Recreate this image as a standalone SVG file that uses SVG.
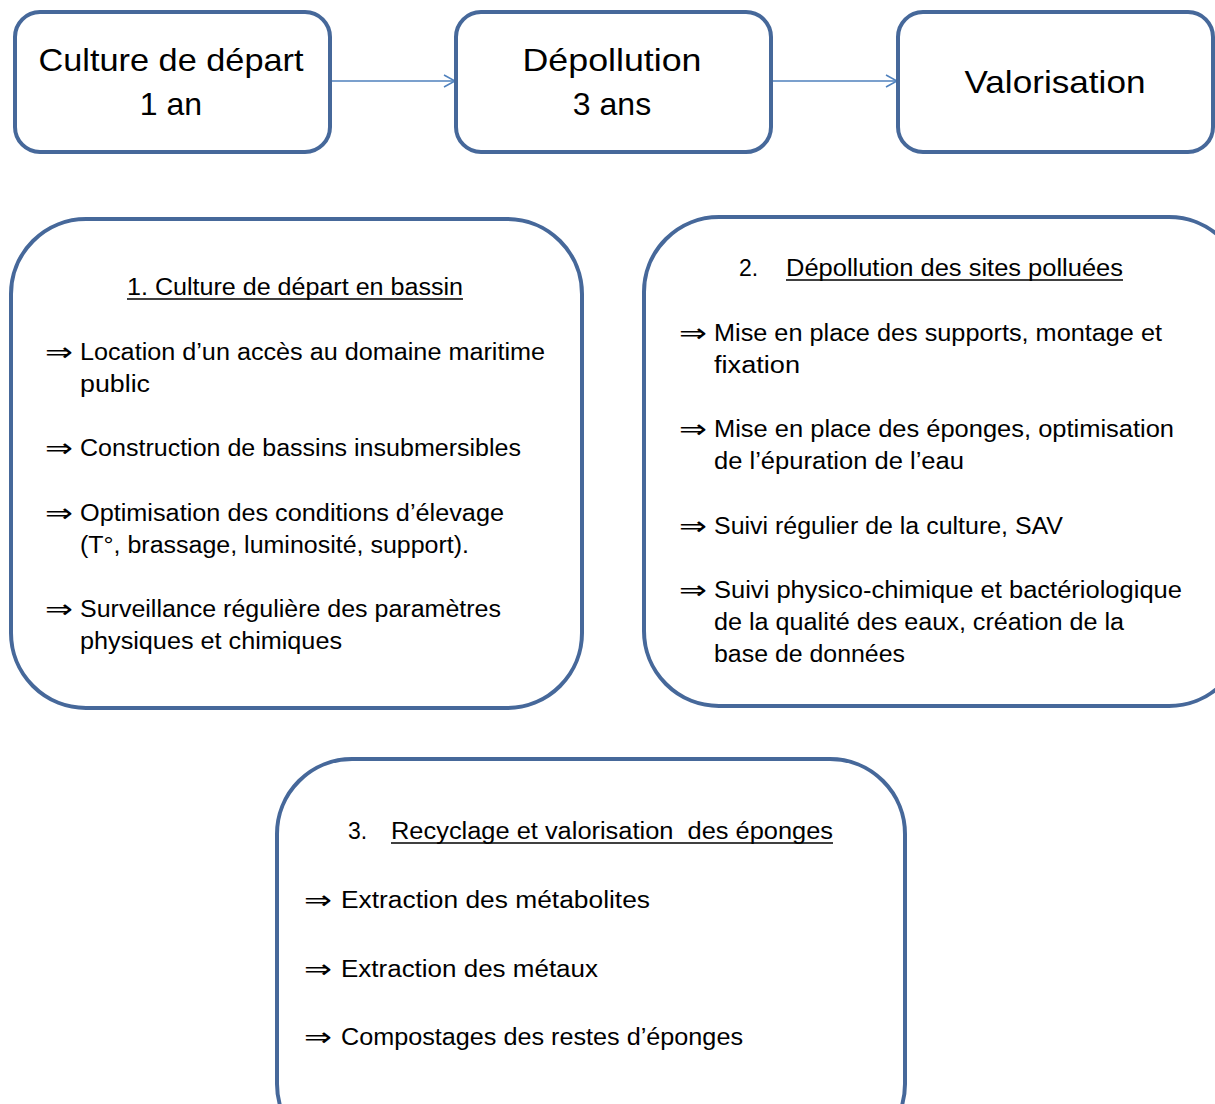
<svg xmlns="http://www.w3.org/2000/svg" width="1215" height="1104" viewBox="0 0 1215 1104">
<style>
.box{fill:#fff;stroke:#46689A;stroke-width:4}
.t{font-family:"Liberation Sans",Arial,sans-serif;fill:#000;white-space:pre}
.h{font-size:32px}
.b{font-size:23px}
.ar{font-family:"DejaVu Sans",sans-serif;font-size:26px;fill:#000}
.ul{stroke:#000;stroke-width:1.5}
.con{stroke:#4F81BD;stroke-width:1.5;fill:none}
</style>
<defs>
<marker id="open" markerWidth="14" markerHeight="14" refX="12" refY="7" orient="auto" markerUnits="userSpaceOnUse">
<path d="M1,1 L12,7 L1,13" fill="none" stroke="#4F81BD" stroke-width="1.5"/>
</marker>
</defs>
<rect width="1215" height="1104" fill="#fff"/>
<g id="connectors">
<line class="con" x1="331" y1="81" x2="455" y2="81" marker-end="url(#open)"/>
<line class="con" x1="772" y1="81" x2="897" y2="81" marker-end="url(#open)"/>
</g>
<g id="n-culture">
<rect class="box" x="15" y="12" width="315" height="140" rx="25"/>
<text class="t h" x="171" y="71" text-anchor="middle" textLength="265" lengthAdjust="spacingAndGlyphs">Culture de départ</text>
<text class="t h" x="171" y="115" text-anchor="middle">1 an</text>
</g>
<g id="n-depollution">
<rect class="box" x="456" y="12" width="315" height="140" rx="25"/>
<text class="t h" x="612" y="71" text-anchor="middle" textLength="179" lengthAdjust="spacingAndGlyphs">Dépollution</text>
<text class="t h" x="612" y="115" text-anchor="middle">3 ans</text>
</g>
<g id="n-valorisation">
<rect class="box" x="898" y="12" width="315" height="140" rx="25"/>
<text class="t h" x="1055" y="93" text-anchor="middle" textLength="181" lengthAdjust="spacingAndGlyphs">Valorisation</text>
</g>
<g id="n-etape1">
<rect class="box" x="11" y="219" width="571" height="489" rx="75"/>
<text class="t b" x="127" y="295" textLength="336" lengthAdjust="spacingAndGlyphs">1. Culture de départ en bassin</text>
<line class="ul" x1="127" y1="299" x2="463" y2="299"/>
<text class="ar" x="45" y="361" textLength="28" lengthAdjust="spacingAndGlyphs">⇒</text>
<text class="t b" x="80" y="360" textLength="465" lengthAdjust="spacingAndGlyphs">Location d’un accès au domaine maritime</text>
<text class="t b" x="80" y="392" textLength="70" lengthAdjust="spacingAndGlyphs">public</text>
<text class="ar" x="45" y="457" textLength="28" lengthAdjust="spacingAndGlyphs">⇒</text>
<text class="t b" x="80" y="456" textLength="441" lengthAdjust="spacingAndGlyphs">Construction de bassins insubmersibles</text>
<text class="ar" x="45" y="522" textLength="28" lengthAdjust="spacingAndGlyphs">⇒</text>
<text class="t b" x="80" y="521" textLength="424" lengthAdjust="spacingAndGlyphs">Optimisation des conditions d’élevage</text>
<text class="t b" x="80" y="553" textLength="389" lengthAdjust="spacingAndGlyphs">(T°, brassage, luminosité, support).</text>
<text class="ar" x="45" y="618" textLength="28" lengthAdjust="spacingAndGlyphs">⇒</text>
<text class="t b" x="80" y="617" textLength="421" lengthAdjust="spacingAndGlyphs">Surveillance régulière des paramètres</text>
<text class="t b" x="80" y="649" textLength="262" lengthAdjust="spacingAndGlyphs">physiques et chimiques</text>
</g>
<g id="n-etape2">
<rect class="box" x="644" y="217" width="600" height="489" rx="75"/>
<text class="t b" x="739" y="276">2.</text>
<text class="t b" x="786" y="276" textLength="337" lengthAdjust="spacingAndGlyphs">Dépollution des sites polluées</text>
<line class="ul" x1="786" y1="280" x2="1123" y2="280"/>
<text class="ar" x="679" y="342" textLength="28" lengthAdjust="spacingAndGlyphs">⇒</text>
<text class="t b" x="714" y="341" textLength="448" lengthAdjust="spacingAndGlyphs">Mise en place des supports, montage et</text>
<text class="t b" x="714" y="373" textLength="86" lengthAdjust="spacingAndGlyphs">fixation</text>
<text class="ar" x="679" y="438" textLength="28" lengthAdjust="spacingAndGlyphs">⇒</text>
<text class="t b" x="714" y="437" textLength="460" lengthAdjust="spacingAndGlyphs">Mise en place des éponges, optimisation</text>
<text class="t b" x="714" y="469" textLength="250" lengthAdjust="spacingAndGlyphs">de l’épuration de l’eau</text>
<text class="ar" x="679" y="535" textLength="28" lengthAdjust="spacingAndGlyphs">⇒</text>
<text class="t b" x="714" y="534" textLength="349" lengthAdjust="spacingAndGlyphs">Suivi régulier de la culture, SAV</text>
<text class="ar" x="679" y="599" textLength="28" lengthAdjust="spacingAndGlyphs">⇒</text>
<text class="t b" x="714" y="598" textLength="468" lengthAdjust="spacingAndGlyphs">Suivi physico-chimique et bactériologique</text>
<text class="t b" x="714" y="630" textLength="410" lengthAdjust="spacingAndGlyphs">de la qualité des eaux, création de la</text>
<text class="t b" x="714" y="662" textLength="191" lengthAdjust="spacingAndGlyphs">base de données</text>
</g>
<g id="n-etape3">
<rect class="box" x="277" y="759" width="628" height="400" rx="75"/>
<text class="t b" x="348" y="839">3.</text>
<text class="t b" x="391" y="839" textLength="442" lengthAdjust="spacingAndGlyphs">Recyclage et valorisation  des éponges</text>
<line class="ul" x1="391" y1="843" x2="833" y2="843"/>
<text class="ar" x="304" y="909" textLength="28" lengthAdjust="spacingAndGlyphs">⇒</text>
<text class="t b" x="341" y="908" textLength="309" lengthAdjust="spacingAndGlyphs">Extraction des métabolites</text>
<text class="ar" x="304" y="978" textLength="28" lengthAdjust="spacingAndGlyphs">⇒</text>
<text class="t b" x="341" y="977" textLength="257" lengthAdjust="spacingAndGlyphs">Extraction des métaux</text>
<text class="ar" x="304" y="1046" textLength="28" lengthAdjust="spacingAndGlyphs">⇒</text>
<text class="t b" x="341" y="1045" textLength="402" lengthAdjust="spacingAndGlyphs">Compostages des restes d’éponges</text>
</g>
</svg>
